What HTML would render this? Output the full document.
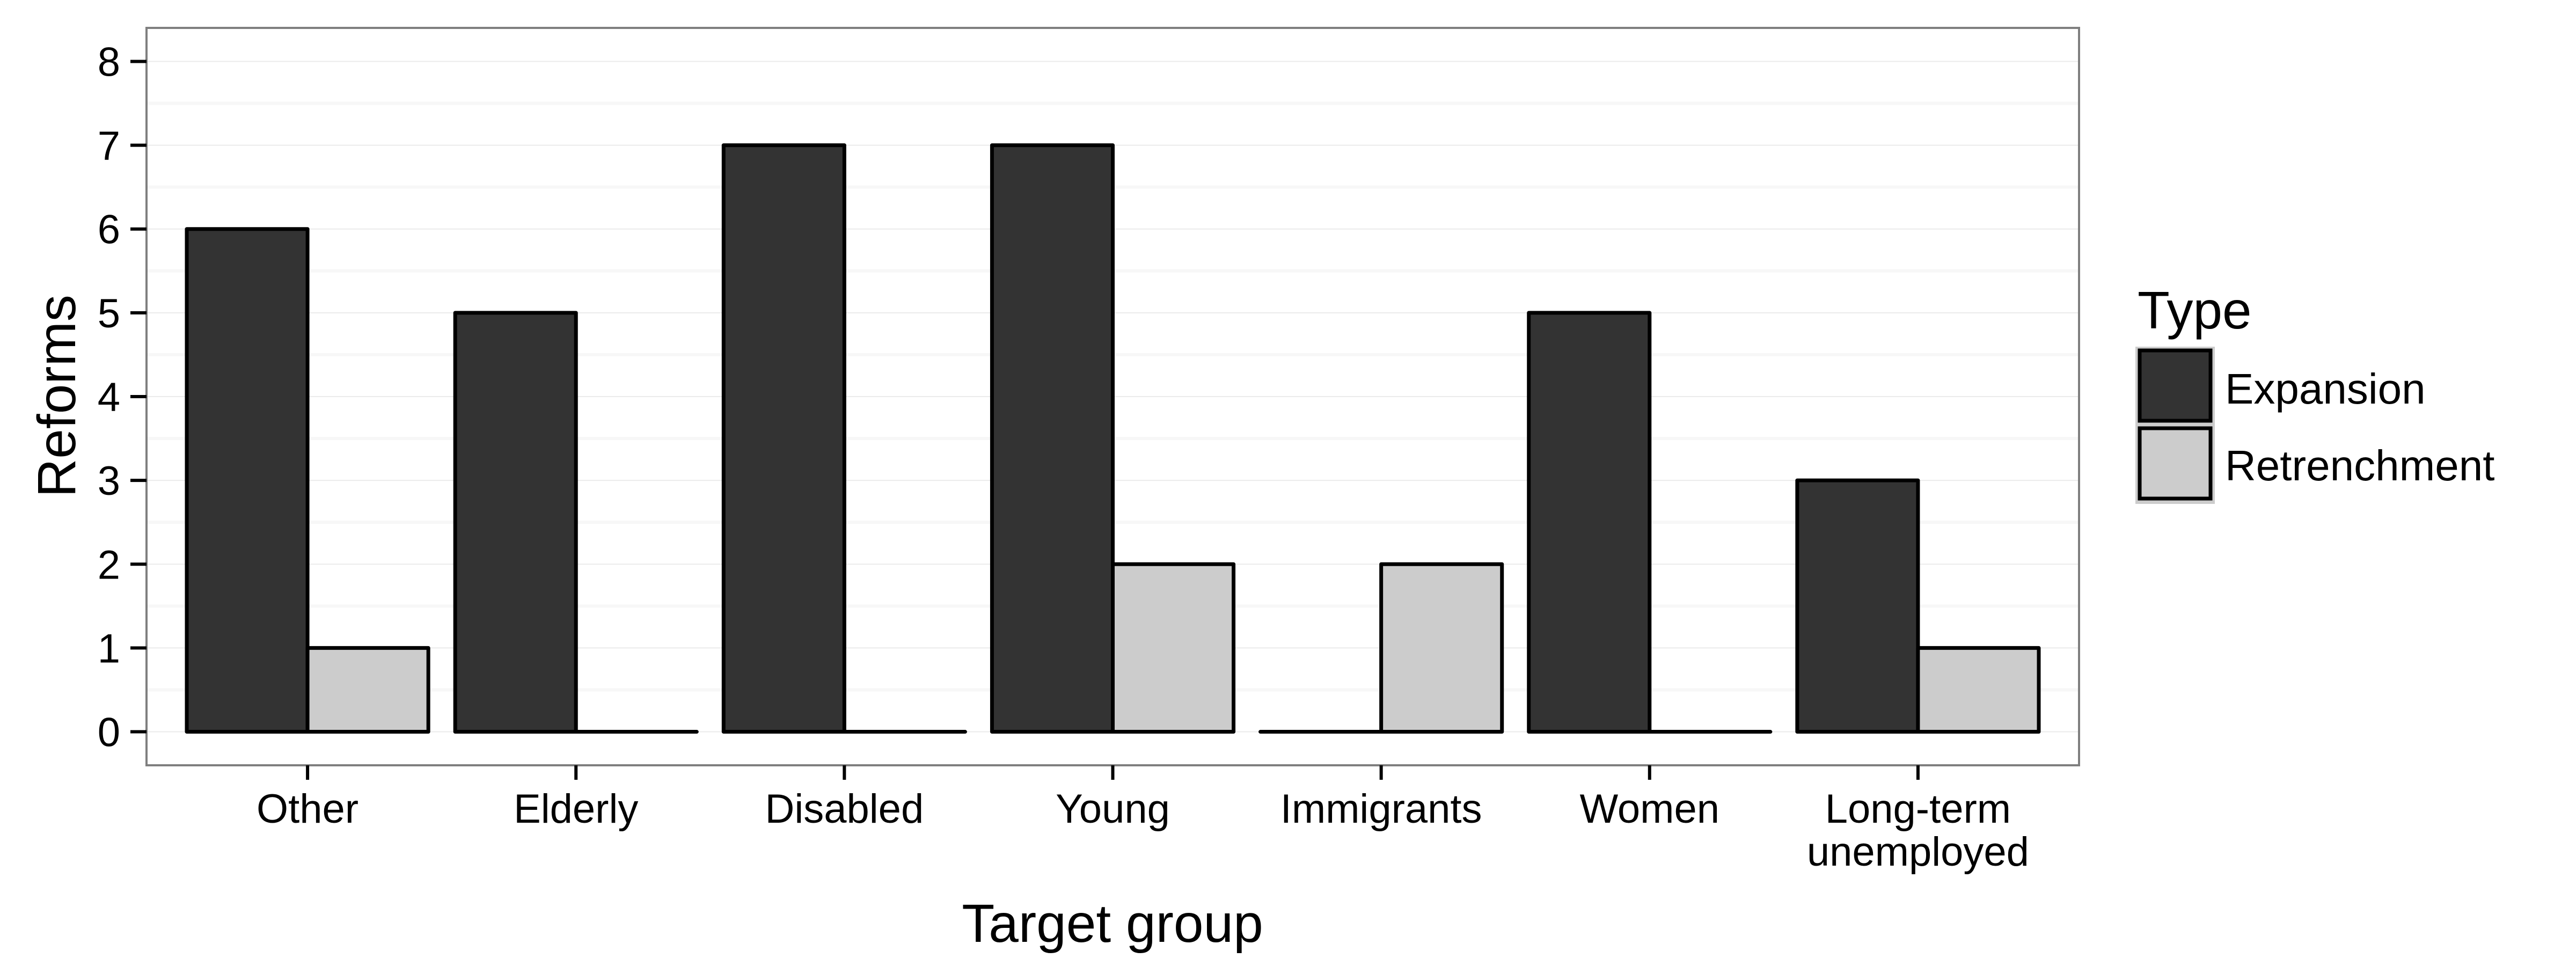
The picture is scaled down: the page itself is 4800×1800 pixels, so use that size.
<!DOCTYPE html>
<html><head><meta charset="utf-8">
<style>
html,body{margin:0;padding:0;background:#fff;}
svg{display:block;font-family:"Liberation Sans",Arial,sans-serif;}
</style></head>
<body>
<svg id="chart" width="4800" height="1800" viewBox="0 0 4800 1800" xmlns="http://www.w3.org/2000/svg">
<rect x="0" y="0" width="4800" height="1800" fill="#fff"/>
<g id="grid"></g>
<g id="bars"></g>
<rect x="273" y="52" width="3601" height="1374" fill="none" stroke="#7f7f7f" stroke-width="4"/>
<g id="yaxis"></g>
<g id="xaxis"></g>
<text x="0" y="0" transform="translate(140,738) rotate(-90)" text-anchor="middle" font-size="100" fill="#000">Reforms</text>
<text x="2073" y="1755" text-anchor="middle" font-size="100" fill="#000">Target group</text>
<g>
<text x="3983" y="612" font-size="98" fill="#000">Type</text>
<rect x="3979" y="646" width="148" height="293" fill="#cccccc"/>
<rect x="3987" y="653" width="132" height="131" fill="#333333" stroke="#000" stroke-width="7"/>
<rect x="3987" y="798" width="132" height="131" fill="#cccccc" stroke="#000" stroke-width="7"/>
<text x="4146" y="752" font-size="80" fill="#000">Expansion</text>
<text x="4146" y="895" font-size="80" fill="#000">Retrenchment</text>
</g>
</svg>
<script>
const categories = ["Other","Elderly","Disabled","Young","Immigrants","Women","Long-term|unemployed"];
const expansion = [6,5,7,7,0,5,3];
const retrenchment = [1,0,0,2,2,0,1];
const yTicks = [0,1,2,3,4,5,6,7,8];

const NS = "http://www.w3.org/2000/svg";
const PL = 273, PR = 3874, PT = 52, PB = 1426;
const yMin = -0.4, yMax = 8.4;
function yScale(v){ return PB - (v - yMin) / (yMax - yMin) * (PB - PT); }
const step = (PR - PL) / (categories.length + 0.2);
function xScale(i){ return PL + (0.6 + i) * step; }
const barW = step * 0.45;

function mk(tag, attrs, parent){
  const el = document.createElementNS(NS, tag);
  for (const k in attrs) el.setAttribute(k, attrs[k]);
  parent.appendChild(el);
  return el;
}
const grid = document.getElementById('grid');
for (let v = -0.5; v <= 8.5; v += 1){
  if (v < yMin || v > yMax) continue;
  const l = mk('line', {x1:PL, x2:PR, y1:yScale(v), y2:yScale(v), stroke:'#f7f7f7', 'stroke-width':6}, grid);
  
  
}
yTicks.forEach(v => {
  const l = mk('line', {x1:PL, x2:PR, y1:yScale(v), y2:yScale(v), stroke:'#ebebeb', 'stroke-width':2}, grid);
  
  
});

function barPath(x, w, v){
  const y0 = yScale(0), y1 = yScale(v);
  return 'M' + x + ' ' + y0 + ' L' + x + ' ' + y1 + ' L' + (x + w) + ' ' + y1 + ' L' + (x + w) + ' ' + y0 + ' Z';
}
const bars = document.getElementById('bars');
categories.forEach((c, i) => {
  const cx = xScale(i);
  const b1 = mk('path', {d:barPath(cx - barW, barW, expansion[i]), fill:'#333333', stroke:'#000', 'stroke-width':7, 'stroke-linejoin':'round', 'stroke-linecap':'round'}, bars);
  
  
  const b2 = mk('path', {d:barPath(cx, barW, retrenchment[i]), fill:'#cccccc', stroke:'#000', 'stroke-width':7, 'stroke-linejoin':'round', 'stroke-linecap':'round'}, bars);
  
  
});

const yaxis = document.getElementById('yaxis');
yTicks.forEach(v => {
  const t = mk('line', {x1:243, x2:273, y1:yScale(v), y2:yScale(v), stroke:'#000', 'stroke-width':6}, yaxis);
  
  
  const tx = mk('text', {x:224, y:yScale(v) + 27, 'text-anchor':'end', 'font-size':76, fill:'#000'}, yaxis);
  tx.textContent = String(v);
  
  
});

const xaxis = document.getElementById('xaxis');
categories.forEach((c, i) => {
  const cx = xScale(i);
  const t = mk('line', {x1:cx, x2:cx, y1:PB, y2:PB + 27, stroke:'#000', 'stroke-width':6}, xaxis);
  
  
  const lines = c.split('|');
  lines.forEach((ln, j) => {
    const tx = mk('text', {x:cx, y:1533 + j * 80, 'text-anchor':'middle', 'font-size':76, fill:'#000'}, xaxis);
    tx.textContent = ln;
    
    
  });
});
</script>
</body></html>
